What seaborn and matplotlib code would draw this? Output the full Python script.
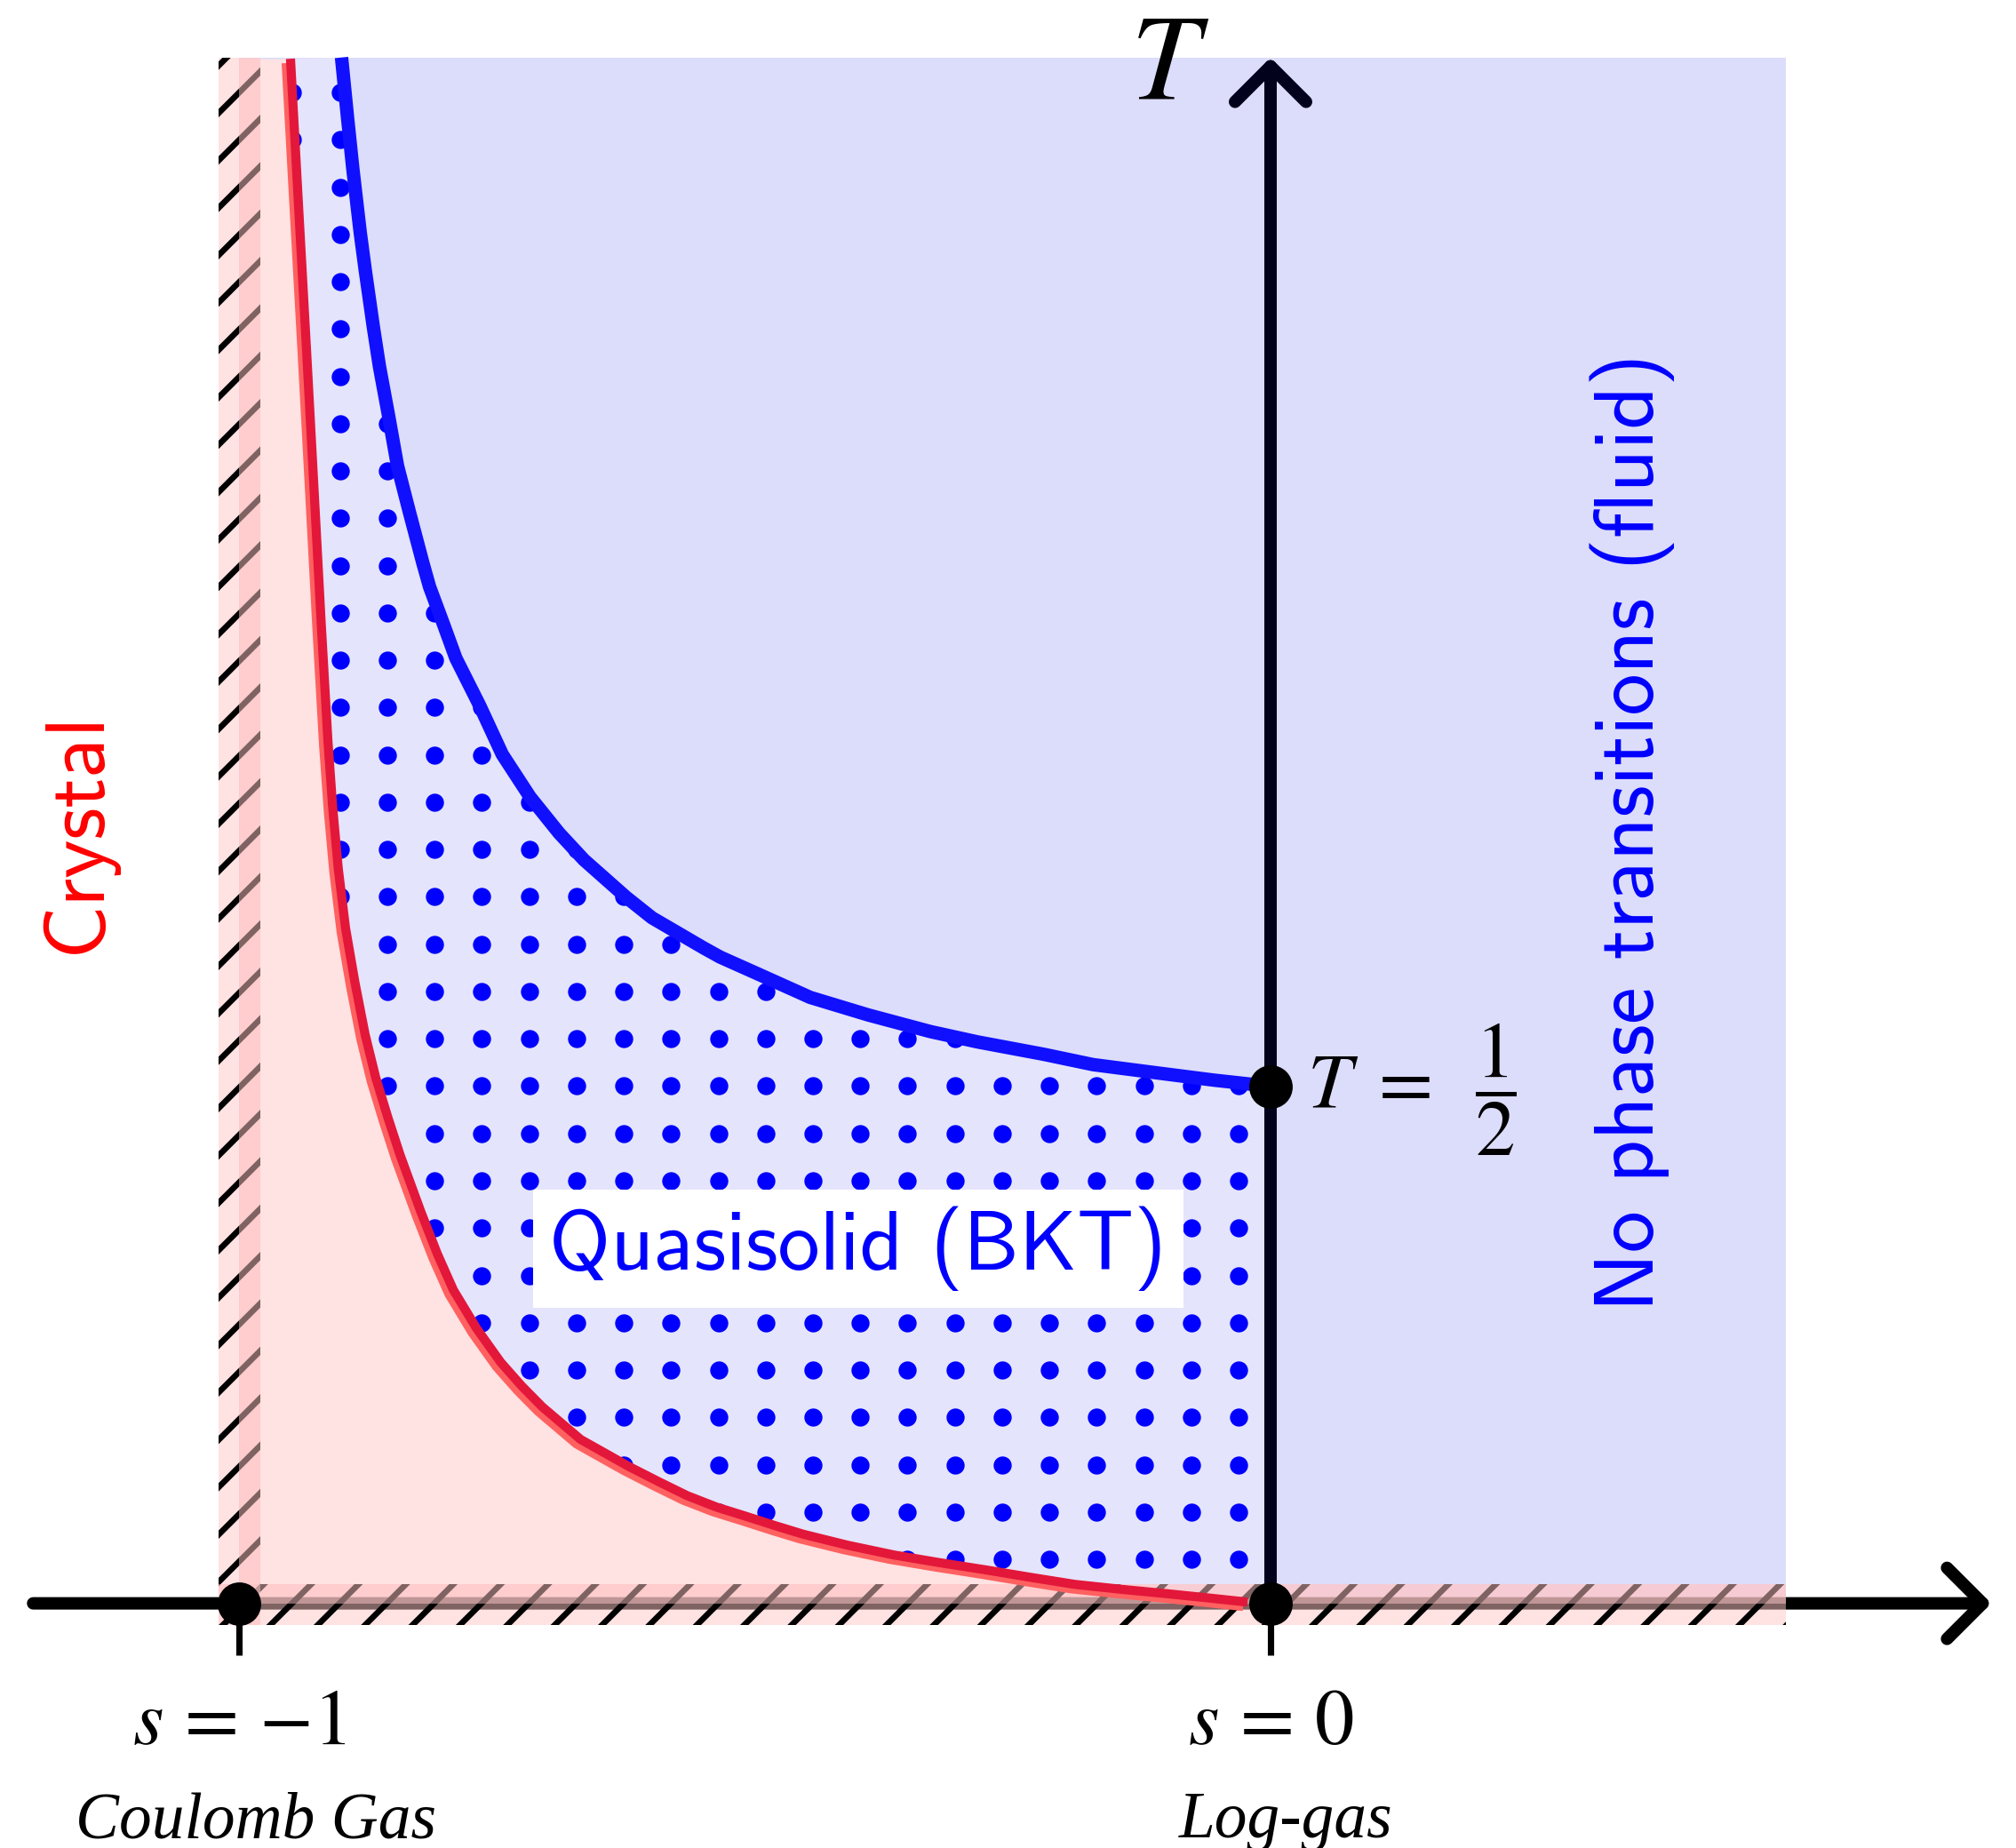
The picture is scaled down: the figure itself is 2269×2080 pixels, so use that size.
import numpy as np
import matplotlib
matplotlib.use('Agg')
import matplotlib.pyplot as plt
import matplotlib.patheffects as pe
from matplotlib.patches import Rectangle, FancyArrowPatch
import seaborn as sns

# BKT line (blue): s, T
bkt_s = [-0.9009, -0.898, -0.895, -0.890, -0.8828, -0.878, -0.870, -0.8641, -0.855,
         -0.8466, -0.835, -0.822, -0.8155, -0.8017, -0.790, -0.7668, -0.745, -0.7182,
         -0.690, -0.6658, -0.625, -0.5998, -0.550, -0.5337, -0.500, -0.4464, -0.390,
         -0.330, -0.2843, -0.220, -0.1721, -0.110, -0.055, 0.0]
bkt_T = [1.495, 1.466, 1.436, 1.388, 1.326, 1.290, 1.234, 1.196, 1.147,
         1.100, 1.055, 1.006, 0.983, 0.946, 0.914, 0.868, 0.821, 0.780,
         0.745, 0.719, 0.683, 0.663, 0.634, 0.625, 0.610, 0.586, 0.569,
         0.553, 0.543, 0.531, 0.521, 0.513, 0.506, 0.5]

# crystal line (red)
cry_s = [-0.9504, -0.9425, -0.9347, -0.9277, -0.9207, -0.9141, -0.9095, -0.9040,
         -0.8970, -0.8878, -0.8780, -0.8678, -0.8560, -0.8441, -0.8241, -0.8080,
         -0.7924, -0.7700, -0.7465, -0.7260, -0.7062, -0.6690, -0.6229, -0.5940,
         -0.5656, -0.5370, -0.5081, -0.4800, -0.4530, -0.4100, -0.3653, -0.3200,
         -0.2770, -0.2330, -0.1895, -0.1450, -0.1010, -0.0600, -0.0224]
cry_T = [1.4938, 1.350, 1.2097, 1.080, 0.9493, 0.8341, 0.7700, 0.7100,
         0.6530, 0.6000, 0.5500, 0.5087, 0.4700, 0.4336, 0.3790, 0.3380,
         0.3030, 0.2660, 0.2331, 0.2100, 0.1900, 0.1585, 0.1327, 0.1180,
         0.1041, 0.0930, 0.0840, 0.0750, 0.0668, 0.0562, 0.0468, 0.0392,
         0.0325, 0.0252, 0.0183, 0.0136, 0.0094, 0.0052, 0.0012]

# marked points and axis labels
pt_s = [-1.0, 0.0, 0.0]
pt_T = [0.0, 0.0, 0.5]
tick_s = [-1.0, 0.0]
tick_labels = [r'$s\,=\,{-1}$', r'$s\,=\,0$']
tick_names = ['Coulomb Gas', 'Log-gas']
tick_name_s = [-0.984, 0.0145]

sns.set_theme(style='white')
plt.rcParams['mathtext.fontset'] = 'stix'
plt.rcParams['hatch.linewidth'] = 1.5

DPI = 320
fig = plt.figure(figsize=(2269 / DPI, 2080 / DPI), dpi=DPI)
ax = fig.add_axes([0, 0, 1, 1])
ax.set_xlim(-1.2321, 0.7229)
ax.set_ylim(-0.2366, 1.5506)
ax.axis('off')

pink = (1, 0.78, 0.78, 0.5)

# background of the fluid phase
ax.add_patch(Rectangle((-1.0, 0.0), 1.5, 1.495, fc='#dcdcfb', lw=0, zorder=0.5))

# crystal region
ax.fill_betweenx(cry_T, -1.0, cry_s, color='#ffe2e2', lw=0, zorder=1)

# quasisolid region, dotted
reg_s = np.r_[bkt_s, 0.0, cry_s[::-1]]
reg_T = np.r_[bkt_T, 0.0, cry_T[::-1]]
poly = ax.fill(reg_s, reg_T, color='#e4e4fc', lw=0, zorder=1)[0]

gs, gT = np.meshgrid(-0.031 - 0.04586 * np.arange(21), 0.0426 + 0.04576 * np.arange(32))
dots = ax.scatter(gs.ravel(), gT.ravel(), s=21, c='blue', lw=0, zorder=2)
dots.set_clip_path(poly)

# s axis
ax.add_patch(FancyArrowPatch((-1.2, 0), (0.699, 0),
                             arrowstyle='->,head_length=0.45,head_width=0.45',
                             mutation_scale=20, lw=3.15, color='black',
                             capstyle='round', joinstyle='round',
                             shrinkA=0, shrinkB=0, zorder=3.5))
ax.vlines(tick_s, -0.05, 0, color='black', lw=1.6, zorder=3.5)

# hatched strips
ax.add_patch(Rectangle((-1.02, -0.021), 1.52, 0.04, fc=pink, ec='black', lw=0,
                       hatch='//', zorder=4))
ax.add_patch(Rectangle((-1.02, -0.021), 0.04, 1.516, fc=pink, ec='black', lw=0,
                       hatch='//', zorder=4))
ax.add_patch(Rectangle((-1.02, 0.0), 1.52, 0.019, fc=pink, lw=0, zorder=4.5))
ax.add_patch(Rectangle((-1.0, -0.021), 0.02, 1.516, fc=pink, lw=0, zorder=4.5))

# phase boundaries
sns.lineplot(x=cry_s, y=cry_T, sort=False, estimator=None, color='#e3173a', lw=2.3,
             ax=ax, zorder=5, solid_capstyle='butt',
             path_effects=[pe.SimpleLineShadow(offset=(-1.1, -1.1), shadow_color='#ff6060',
                                               alpha=1), pe.Normal()])
sns.lineplot(x=bkt_s, y=bkt_T, sort=False, estimator=None, color='#1010ff', lw=3.4,
             ax=ax, zorder=5, solid_capstyle='butt')

# T axis
ax.add_patch(FancyArrowPatch((0, 0), (0, 1.495),
                             arrowstyle='->,head_length=0.45,head_width=0.45',
                             mutation_scale=20, lw=3.15, color='#02021c',
                             capstyle='round', joinstyle='round',
                             shrinkA=0, shrinkB=0, zorder=6))

sns.scatterplot(x=pt_s, y=pt_T, s=11 ** 2, color='black', lw=0, ax=ax, zorder=8)

# labels
ax.text(-0.098, 1.456, '$T$', fontsize=31, ha='center', va='baseline', color='black')
ax.text(0.035, 0.497, r'$T\;=\;\;\dfrac{1}{2}$', fontsize=20, ha='left', va='center',
        color='black', zorder=9)
for s, lab in zip(tick_s, tick_labels):
    ax.text(s, -0.136, lab, fontsize=20, ha='center', va='baseline', color='black')
for s, lab in zip(tick_name_s, tick_names):
    ax.text(s, -0.2264, lab, fontsize=16.5, ha='center', va='baseline',
            family='Liberation Serif', style='italic', color='black')

ax.text(-0.400, 0.343, 'Quasisolid (BKT)', fontsize=21.2, family='cmss10', color='blue',
        ha='center', va='center', zorder=9,
        bbox=dict(boxstyle='square,pad=0.2', fc='white', ec='none'))
ax.text(-1.157, 0.746, 'Crystal', fontsize=21.2, family='cmss10', color='red',
        rotation=90, ha='center', va='center')
ax.text(0.3513, 0.746, 'No phase transitions (fluid)', fontsize=21.2, family='cmss10',
        color='blue', rotation=90, ha='center', va='center')

fig.savefig('out.png', dpi=DPI)
